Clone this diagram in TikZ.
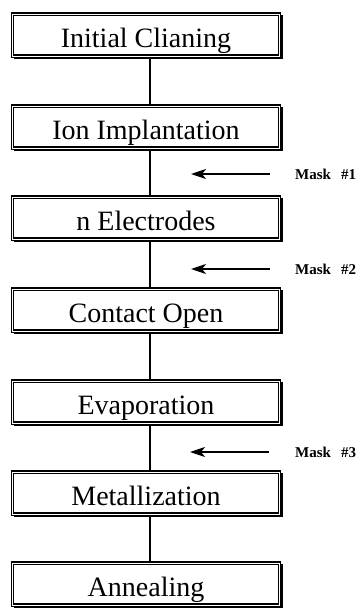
\documentclass[tikz,border=0pt]{standalone}
\usepackage{fontspec}
\setmainfont{Liberation Serif}
\usetikzlibrary{arrows.meta}

\tikzset{
  stepbox/.style={draw, line width=1.2pt, double=white, double distance=0.8pt,
    fill=white, inner sep=0pt,
    minimum width=267pt, minimum height=42pt,
    text height=25pt, text depth=0pt,
    font=\fontsize{28}{30}\selectfont},
  shade edge/.style={line width=1.6pt},
  link/.style={line width=1.5pt},
  maskarrow/.style={line width=1.8pt, -{Stealth[length=15pt,width=10pt,inset=4pt]}},
  masklabel/.style={anchor=west, inner sep=0pt, font=\fontsize{15}{17}\selectfont\bfseries}
}

\begin{document}
\begin{tikzpicture}[x=1pt,y=-1pt]
			%%%%% START %%%%%
			\useasboundingbox (0,0) rectangle (364,608);
			
			% process steps
			\node[stepbox] (clean) at (146, 35) {Initial Clianing};
			\node[stepbox] (implant) at (146, 127) {Ion Implantation};
			\node[stepbox] (elec) at (146, 218) {n Electrodes};
			\node[stepbox] (contact) at (146, 310) {Contact Open};
			\node[stepbox] (evap) at (146, 402) {Evaporation};
			\node[stepbox] (metal) at (146, 493) {Metallization};
			\node[stepbox] (anneal) at (146, 584) {Annealing};
			
			% heavier right and bottom edges
			\foreach \n in {clean,implant,elec,contact,evap,metal,anneal}
				\draw[shade edge] ([xshift=1.6pt,yshift=-1.6pt]\n.north east) -- ([xshift=1.6pt,yshift=-1.6pt]\n.south east) -- ([xshift=1.6pt,yshift=-1.6pt]\n.south west);
			
			\draw[link] ([xshift=4pt]clean.south) -- ([xshift=4pt]implant.north);
			\draw[link] ([xshift=4pt]implant.south) -- ([xshift=4pt]elec.north);
			\draw[link] ([xshift=4pt]elec.south) -- ([xshift=4pt]contact.north);
			\draw[link] ([xshift=4pt]contact.south) -- ([xshift=4pt]evap.north);
			\draw[link] ([xshift=4pt]evap.south) -- ([xshift=4pt]metal.north);
			\draw[link] ([xshift=4pt]metal.south) -- ([xshift=4pt]anneal.north);
			
			% masks
			\coordinate (s1) at (270, 174);
			\coordinate (e1) at (191, 174);
			\node[masklabel] (m1) at (295, 174) {Mask\hspace{10pt}\#1};
			\draw[maskarrow] (s1) -- (e1);
			
			\coordinate (s2) at (270, 269);
			\coordinate (e2) at (191, 269);
			\node[masklabel] (m2) at (295, 269) {Mask\hspace{10pt}\#2};
			\draw[maskarrow] (s2) -- (e2);
			
			\coordinate (s3) at (269, 452);
			\coordinate (e3) at (190, 452);
			\node[masklabel] (m3) at (295, 452) {Mask\hspace{10pt}\#3};
			\draw[maskarrow] (s3) -- (e3);
			
			%%%%% END %%%%%
\end{tikzpicture}
\end{document}
